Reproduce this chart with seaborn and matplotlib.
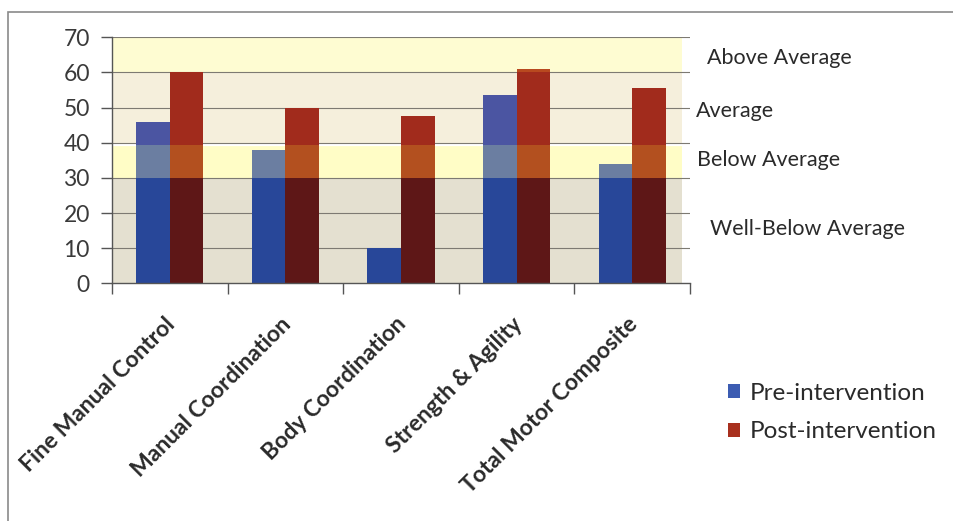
import matplotlib
matplotlib.use("Agg")
import matplotlib.pyplot as plt
import matplotlib.transforms as mtransforms
from matplotlib.patches import Patch, Rectangle
import seaborn as sns
import pandas as pd

# ---- data -------------------------------------------------------------
categories = ["Fine Manual Control", "Manual Coordination", "Body Coordination",
              "Strength & Agility", "Total Motor Composite"]
pre_intervention = [46, 38, 10, 53.5, 34]
post_intervention = [60, 50, 47.5, 61, 55.5]
series_names = ["Pre-intervention", "Post-intervention"]

# performance bands: (low, high, label)
band_low = [0, 30, 39.3, 60]
band_high = [30, 39.3, 60, 70]
band_labels = ["Well-Below Average", "Below Average", "Average", "Above Average"]
yticks = [0, 10, 20, 30, 40, 50, 60, 70]

# ---- styling ------------------------------------------------------------
band_bg = ["#E4E0D0", "#FFFDC6", "#F5EFDC", "#FEFCD2"]
# bar tint inside each band: (pre, post)
band_bar = [("#284799", "#5E1717"),
            ("#6B7EA1", "#B3501F"),
            ("#4B55A2", "#A12B1C"),
            ("#8A86B0", "#B8491F")]
legend_colors = ["#3C5CB2", "#A8301E"]
label_x = [1.034, 1.012, 1.011, 1.029]
label_y = [15.5, 35.0, 49.0, 64.0]

sns.set_theme(style="white")
plt.rcParams["font.family"] = ["Lato", "DejaVu Sans"]

df = pd.DataFrame({
    "category": categories * 2,
    "score": pre_intervention + post_intervention,
    "series": [series_names[0]] * len(categories) + [series_names[1]] * len(categories),
})

fig = plt.figure(figsize=(9.54, 5.21), dpi=100)
ax = fig.add_axes([112 / 954, 1 - 283.3 / 521, 578 / 954, 246 / 521])

# background bands
for lo, hi, c in zip(band_low, band_high, band_bg):
    ax.axhspan(lo, hi, xmin=0, xmax=0.986, color=c, zorder=0, lw=0)
ax.axhline(band_high[1], xmin=0, xmax=0.986, color="white", lw=1.6, zorder=0.5)

for y in yticks[1:]:
    ax.axhline(y, color="#7d7a72", lw=0.8, zorder=1)

sns.barplot(data=df, x="category", y="score", hue="series", order=categories,
            hue_order=series_names, palette=[band_bar[2][0], band_bar[2][1]],
            width=0.58, gap=0, saturation=1, errorbar=None, legend=False,
            ax=ax, zorder=2, linewidth=0)

# recolour each bar where it passes through the bands
bar_groups = list(ax.containers)
for s, container in enumerate(bar_groups):
    for patch in container.patches:
        v = patch.get_height()
        xc = patch.get_x() + patch.get_width() / 2
        for b, (lo, hi) in enumerate(zip(band_low, band_high)):
            top = min(v, hi)
            if top > lo and b != 2:
                ax.bar(xc, top - lo, bottom=lo, width=patch.get_width(),
                       color=band_bar[b][s], lw=0, zorder=2.5)

ax.set_xlim(-0.5, len(categories) - 0.5)
ax.set_ylim(0, 70)
ax.set_yticks(yticks)
ax.set_xlabel("")
ax.set_ylabel("")

for side in ("top", "right"):
    ax.spines[side].set_visible(False)
for side in ("left", "bottom"):
    ax.spines[side].set_color("#555555")
    ax.spines[side].set_linewidth(1.0)
    ax.spines[side].set_zorder(3)

ax.tick_params(axis="y", direction="out", length=8, width=1, color="#555555",
               labelsize=16.5, labelcolor="#3a3a3a", pad=8, left=True)
ax.set_xticks(range(len(categories)))
ax.set_xticks([i - 0.5 for i in range(len(categories) + 1)], minor=True)
ax.tick_params(axis="x", which="minor", direction="out", length=8, width=1,
               color="#555555", bottom=True)
ax.tick_params(axis="x", which="major", length=0, pad=27)
ax.set_xticklabels(categories, rotation=45, ha="right", rotation_mode="anchor",
                   fontsize=16.5, fontweight="bold", color="#2a2a2a")
shift = mtransforms.ScaledTranslation(2 / 100, 0, fig.dpi_scale_trans)
for lbl in ax.get_xticklabels():
    lbl.set_transform(lbl.get_transform() + shift)
    lbl.set_va("center")

# band labels on the right
trans = mtransforms.blended_transform_factory(ax.transAxes, ax.transData)
for ly, txt, lx in zip(label_y, band_labels, label_x):
    ax.text(lx, ly, txt, transform=trans, ha="left", va="center",
            fontsize=15.5, color="#2a2a2a", clip_on=False)

handles = [Patch(facecolor=c, edgecolor="none") for c in legend_colors]
fig.legend(handles, series_names, loc="upper left",
           bbox_to_anchor=(718 / 954, 1 - 373 / 521), frameon=False,
           fontsize=17.5, handlelength=0.5, handleheight=0.5, handletextpad=0.4,
           labelspacing=0.72, borderaxespad=0, labelcolor="#2a2a2a")

# chart area border
fig.patches.append(Rectangle((8 / 954, -0.05), 1.2, 1 - 12 / 521 + 0.05,
                             transform=fig.transFigure, fill=False,
                             edgecolor="#8a8a8a", lw=1.2, zorder=-1))

fig.savefig("out.png", dpi=100)
